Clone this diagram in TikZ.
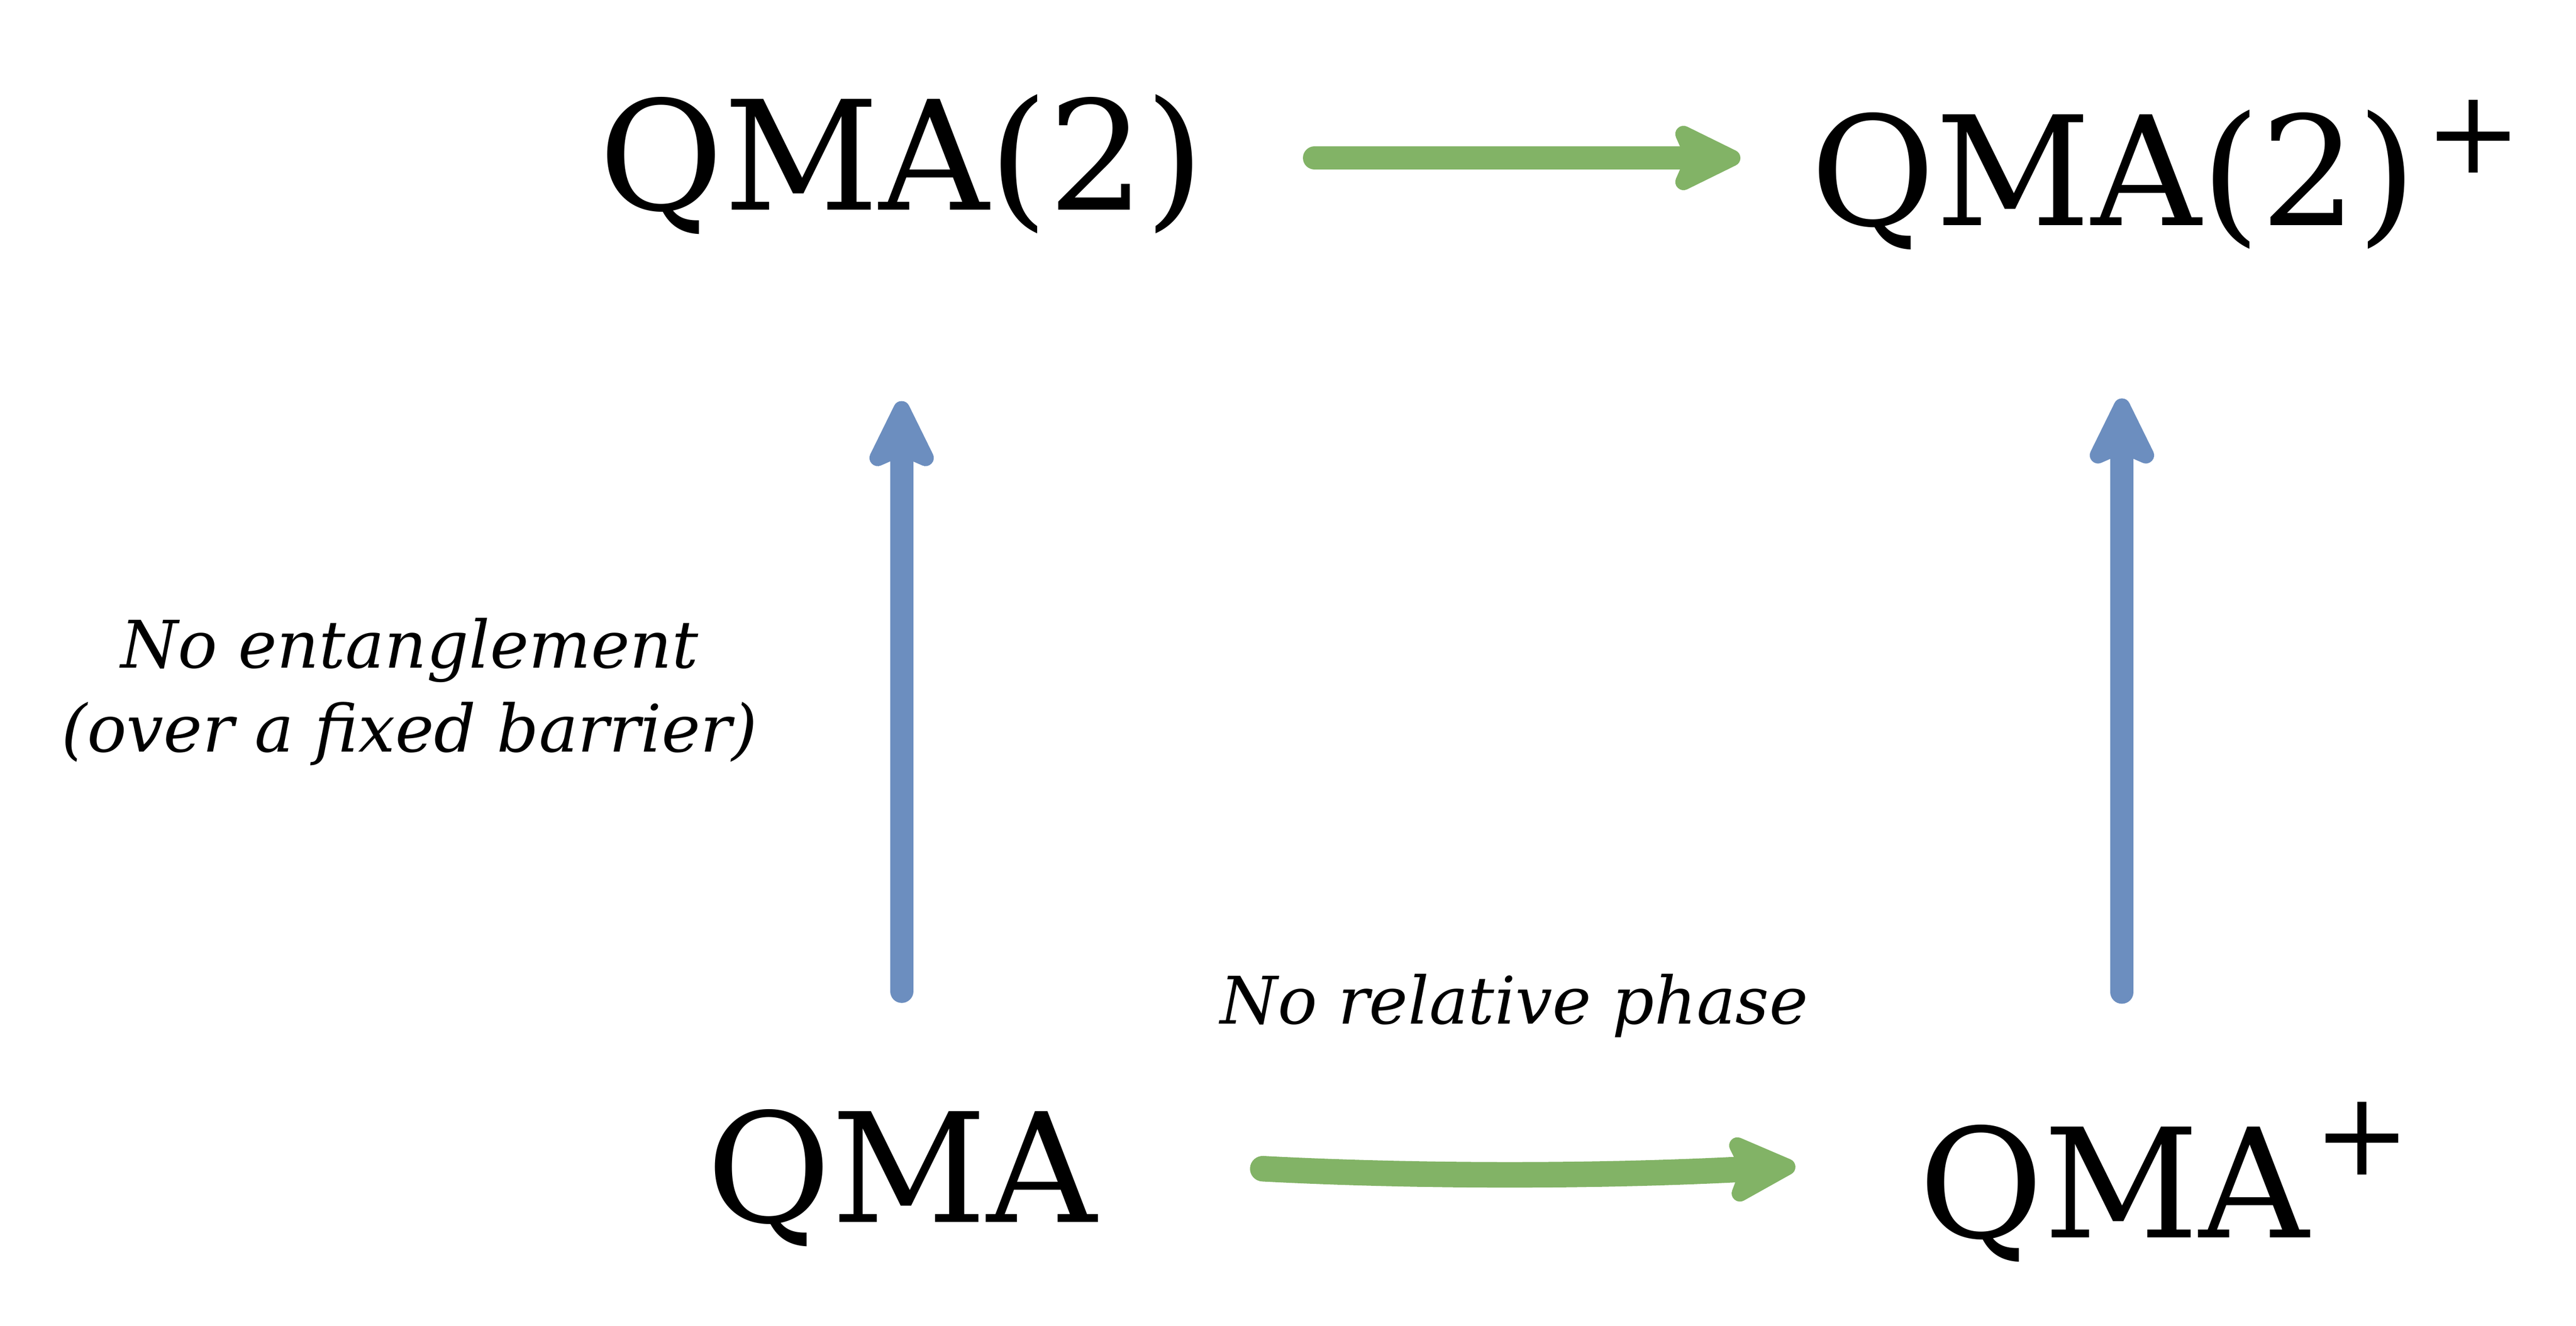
\documentclass[tikz,border=0pt]{standalone}
\usepackage{fontspec}
\setmainfont{DejaVu Serif}
\usetikzlibrary{arrows.meta}
\definecolor{sketchgreen}{HTML}{82B366}
\definecolor{sketchblue}{HTML}{6C8EBF}
\newcommand{\plusmark}[2]{\rlap{\hspace{#1}\raisebox{#2}{\fontsize{20}{20}\selectfont +}}}

\begin{document}
\begin{tikzpicture}[
    cls/.style={inner sep=0pt, anchor=base, text height=0.95cm, text depth=0.32cm, font=\fontsize{26.2}{32}\selectfont},
    note/.style={inner sep=0pt, align=center, font=\fontsize{11.3}{14.5}\selectfont\itshape},
    greenarrow/.style={line width=4pt, color=sketchgreen, line cap=round, -{Stealth[length=5mm, width=4.8mm, inset=1mm, round]}},
    bluearrow/.style={line width=4pt, color=sketchblue, line cap=round, -{Stealth[length=5mm, width=4.8mm, inset=1mm, round]}}
]
        \useasboundingbox (0,0) rectangle (15.6,8.03);

        \node[cls] (q2) at (5.46,6.758) {QMA(2)};
        \node[cls] (q2p) at (12.80,6.664) {QMA(2)\plusmark{0.05cm}{0.32cm}};
        \node[cls] (qma) at (5.46,0.629) {QMA};
        \node[cls] (qmap) at (12.80,0.534) {QMA\plusmark{0.03cm}{0.38cm}};

        \node[note] (ent) at (2.48,3.84) {No entanglement\\(over a fixed barrier)};
        \node[note, anchor=base] (phase) at (9.17,1.83) {No relative phase};

        \draw[greenarrow, shorten <=6.6mm, shorten >=4.2mm] (q2.east) -- (q2.east -| q2p.west);
        \draw[greenarrow, line width=4.4pt, shorten <=10mm, shorten >=7.4mm] ([yshift=0.6mm]qma.east) to[bend right=3] ([yshift=0.6mm]qma.east -| qmap.west);
        \draw[bluearrow, shorten <=4.4mm, shorten >=8.3mm] (qma.north) -- (qma.north |- q2.south);
        \draw[bluearrow, shorten <=5.3mm, shorten >=7.2mm] ([xshift=0.5mm]qmap.north) -- ([xshift=0.5mm]q2p.south);
\end{tikzpicture}
\end{document}
